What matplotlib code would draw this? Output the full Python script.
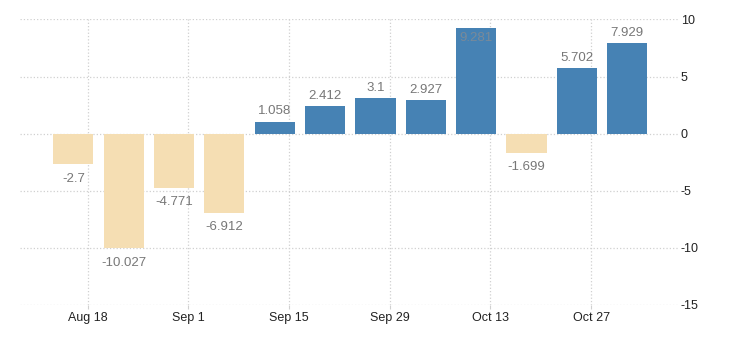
import numpy as np
import pandas as pd
import matplotlib
matplotlib.use("Agg")
import matplotlib.pyplot as plt

plt.rcParams['font.family'] = ['Liberation Sans', 'DejaVu Sans']
plt.rcParams['axes.unicode_minus'] = False

dates = pd.date_range("2019-08-16", periods=12, freq="7D")
values = [-2.7, -10.027, -4.771, -6.912, 1.058, 2.412, 3.1, 2.927, 9.281, -1.699, 5.702, 7.929]
labels = ["-2.7", "-10.027", "-4.771", "-6.912", "1.058", "2.412", "3.1", "2.927", "9.281", "-1.699", "5.702", "7.929"]
tick_dates = pd.date_range("2019-08-18", periods=6, freq="14D")
tick_labels = ["Aug 18", "Sep 1", "Sep 15", "Sep 29", "Oct 13", "Oct 27"]

fig = plt.figure(figsize=(7.3, 3.4), dpi=100)
ax = fig.add_axes([0.0274, 0.103, 0.9014, 0.84])

colors = ["#4682b4" if v >= 0 else "#f5deb3" for v in values]
ax.bar(dates, values, width=5.6, color=colors, zorder=2)

ax.set_ylim(-15, 10)
ax.set_xlim(pd.Timestamp("2019-08-08 14:00"), pd.Timestamp("2019-11-08 02:00"))
ax.set_yticks([-15, -10, -5, 0, 5, 10])
ax.set_xticks(tick_dates)
ax.set_xticklabels(tick_labels)

ax.yaxis.tick_right()
ax.grid(True, linestyle=":", color="#d0d0d0", linewidth=0.9, zorder=0)
for s in ax.spines.values():
    s.set_visible(False)
ax.tick_params(axis="y", length=0, labelsize=9, labelcolor="#222222", pad=2)
ax.tick_params(axis="x", length=3, color="#d0d0d0", labelsize=9, labelcolor="#222222", pad=2)

# value labels
for d, v, t in zip(dates, values, labels):
    if v >= 0:
        if v > 8.5:
            ax.annotate(t, (d, v), xytext=(0, -3), textcoords="offset points",
                        ha="center", va="top", fontsize=9.5, color="#7a8a99")
        else:
            ax.annotate(t, (d, v), xytext=(0, 3), textcoords="offset points",
                        ha="center", va="bottom", fontsize=9.5, color="#777777")
    else:
        ax.annotate(t, (d, v), xytext=(0, -6), textcoords="offset points",
                    ha="center", va="top", fontsize=9.5, color="#777777")

plt.savefig("out.png", dpi=100)
